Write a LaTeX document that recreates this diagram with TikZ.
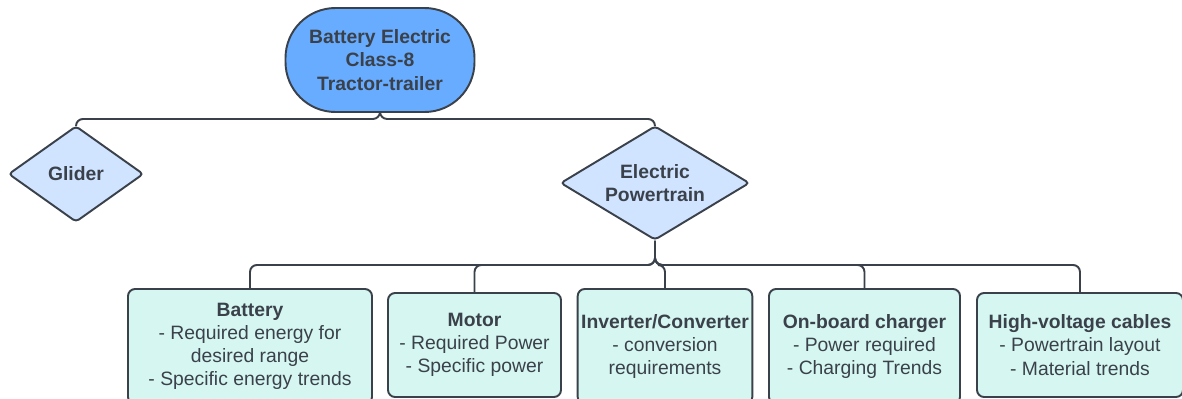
\documentclass[tikz,border=0pt]{standalone}
\usepackage{fontspec}
\setmainfont{Liberation Sans}
\usepackage{xcolor}
\usepackage{tikz}
\usetikzlibrary{arrows.meta,positioning,shapes,calc}

\definecolor{inkgray}{RGB}{58,65,74}
\definecolor{topblue}{RGB}{104,172,255}
\definecolor{paleblue}{RGB}{208,228,255}
\definecolor{palemint}{RGB}{214,247,241}

\begin{document}
\begin{tikzpicture}[
    txt/.style={font=\fontsize{11}{13.2}\selectfont, text=inkgray, align=center},
    rootnode/.style={txt, rectangle, rounded corners=1cm, draw=inkgray, line width=1.1pt, fill=topblue, minimum width=3.78cm, minimum height=2.08cm, font=\fontsize{11}{13.2}\selectfont\bfseries},
    choice/.style={txt, diamond, draw=inkgray, line width=1.1pt, fill=paleblue, rounded corners=2pt, inner sep=0pt, font=\fontsize{11}{13.2}\selectfont\bfseries},
    part/.style={txt, rectangle, rounded corners=4pt, draw=inkgray, line width=1.1pt, fill=palemint, inner sep=2pt},
    link/.style={draw=inkgray, line width=1.1pt, rounded corners=4pt}
]
    \useasboundingbox (0,0) rectangle (23.64,-7.96);

    % Vehicle
    \node[rootnode] (truck) at (7.6,-1.2) {Battery Electric\\Class-8\\Tractor-trailer};

    % Subsystems
    \node[choice, aspect=1.4, minimum width=2.7cm, minimum height=1.92cm] (glider) at (1.52,-3.48) {Glider};
    \node[choice, aspect=1.66, minimum width=3.78cm, minimum height=2.28cm] (ept) at (13.1,-3.66) {Electric\\Powertrain};

    % Powertrain components
    \node[part, minimum width=4.88cm, minimum height=2.3cm] (battery) at (5.0,-6.93)
        {\textbf{Battery}\\- Required energy for\\desired range\\- Specific energy trends};
    \node[part, minimum width=3.46cm, minimum height=2.08cm] (motor) at (9.49,-6.9)
        {\textbf{Motor}\\- Required Power\\- Specific power};
    \node[part, minimum width=3.48cm, minimum height=2.3cm] (inverter) at (13.3,-6.93)
        {\textbf{Inverter/Converter}\\- conversion\\requirements};
    \node[part, minimum width=3.82cm, minimum height=2.3cm] (charger) at (17.29,-6.93)
        {\textbf{On-board charger}\\- Power required\\- Charging Trends};
    \node[part, minimum width=4.12cm, minimum height=2.08cm] (cables) at (21.6,-6.9)
        {\textbf{High-voltage cables}\\- Powertrain layout\\- Material trends};

    % Tree links
    \draw[link] (truck.south) -- ++(0,-0.12) -| (glider.north);
    \draw[link] (truck.south) -- ++(0,-0.12) -| (ept.north);

    \draw[link] (ept.south) -- ++(0,-0.48) -| (battery.north);
    \draw[link] (ept.south) -- ++(0,-0.48) -| (motor.north);
    \draw[link] (ept.south) -- ++(0,-0.48) -| (inverter.north);
    \draw[link] (ept.south) -- ++(0,-0.48) -| (charger.north);
    \draw[link] (ept.south) -- ++(0,-0.48) -| (cables.north);
\end{tikzpicture}
\end{document}
